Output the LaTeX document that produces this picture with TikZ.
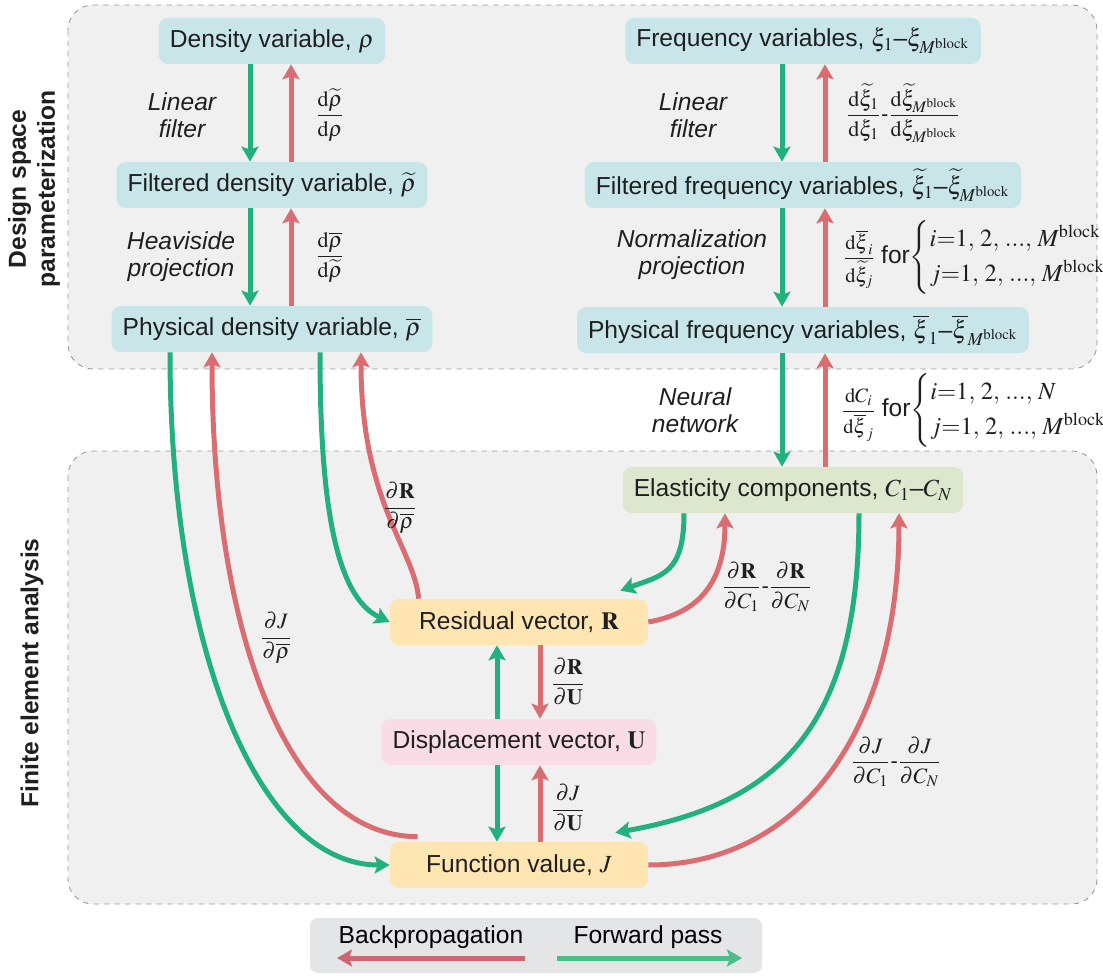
\documentclass[tikz,border=0pt]{standalone}
\usepackage{mathptmx}
\usepackage{amsmath}
\usepackage[no-math]{fontspec}
\setmainfont{Liberation Sans}
\usepackage{xcolor}
\usetikzlibrary{arrows.meta}
\definecolor{fwdgreen}{HTML}{22B07D}
\definecolor{backred}{HTML}{D96D71}
\definecolor{legendgreen}{HTML}{4CBD86}
\definecolor{legendred}{HTML}{CE6570}
\definecolor{varblue}{HTML}{C8E6EA}
\definecolor{elasgreen}{HTML}{DDE7CD}
\definecolor{vecorange}{HTML}{FEE5B2}
\definecolor{disppink}{HTML}{F9DCE6}
\definecolor{panelgray}{HTML}{F0F0F0}
\definecolor{legendgray}{HTML}{E4E5E7}
\tikzstyle{varbox} = [rectangle, rounded corners=0.18cm,
minimum height=0.92cm,
inner xsep=0.22cm,
text=black!88,
fill=varblue]
\tikzstyle{fembox} = [varbox, minimum width=5.16cm]
\tikzstyle{fwd} = [-{Stealth[length=0.3cm, width=0.34cm, inset=0.06cm]}, line width=0.1cm, draw=fwdgreen]
\tikzstyle{back} = [-{Stealth[length=0.3cm, width=0.34cm, inset=0.06cm]}, line width=0.1cm, draw=backred]
\tikzstyle{panel} = [draw=black!40, dashed, fill=panelgray, rounded corners=0.5cm, line width=0.5pt]
\tikzstyle{stepname} = [rotate=90, align=center, text=black!88, font=\fontsize{14}{16.5}\selectfont\bfseries]
\tikzstyle{opname} = [align=center, text=black!88, font=\fontsize{14}{15.5}\selectfont\itshape]
\tikzstyle{deriv} = [text=black!88, font=\fontsize{12.5}{15}\selectfont]
\tikzstyle{rangelbl} = [deriv, anchor=west, inner xsep=0pt, font=\fontsize{11.6}{14}\selectfont]

\begin{document}
\begin{tikzpicture}[x=0.02cm, y=0.02cm, font=\fontsize{14}{16.8}\selectfont]
		\useasboundingbox (0,0) rectangle (1103,-976);
		% panels
		\draw [panel] (68,-5) rectangle (1097,-369);
		\draw [panel] (68,-451) rectangle (1097,-904);
		\fill [legendgray, rounded corners=0.16cm] (310,-918) rectangle (762,-973);
		\node (designlbl) [stepname] at (34,-189) {Design space\\parameterization};
		\node (felbl) [stepname] at (32,-673) {Finite element analysis};
		
		% design variables
		\node (dens) [varbox] at (272,-41) {Density variable, $\rho$};
		\node (filtdens) [varbox] at (272,-185) {Filtered density variable, $\widetilde{\rho}$};
		\node (physdens) [varbox] at (272,-329) {Physical density variable, $\overline{\rho}$};
		\node (freq) [varbox] at (803,-41) {Frequency variables, $\xi_1$--$\xi_{M^{\mathrm{block}}}$};
		\node (filtfreq) [varbox] at (803,-185) {Filtered frequency variables, $\widetilde{\xi}_1$--$\widetilde{\xi}_{M^{\mathrm{block}}}$};
		\node (physfreq) [varbox] at (803,-330) {Physical frequency variables, $\overline{\xi}_1$--$\overline{\xi}_{M^{\mathrm{block}}}$};
		
		% analysis
		\node (elast) [varbox, fill=elasgreen] at (793,-490) {Elasticity components, $C_1$--$C_N$};
		\node (resid) [fembox, fill=vecorange] at (519,-622) {Residual vector, $\mathbf{R}$};
		\node (disp) [fembox, fill=disppink] at (519,-742) {Displacement vector, $\mathbf{U}$};
		\node (func) [fembox, fill=vecorange] at (519,-865) {Function value, $J$};
		
		\coordinate (dg) at (250,0);
		\coordinate (dr) at (291,0);
		\coordinate (fg) at (782,0);
		\coordinate (fr) at (825,0);
		\coordinate (mg) at (497,0);
		\coordinate (mr) at (540,0);
		\coordinate (pa) at (170,0);
		\coordinate (pb) at (212,0);
		\coordinate (pc) at (320,0);
		\coordinate (pd) at (361,0);
		\coordinate (ea) at (684,0);
		\coordinate (eb) at (725,0);
		\coordinate (ec) at (859,0);
		\coordinate (ed) at (899,0);
		
		\draw [fwd] (dens.south -| dg) -- (filtdens.north -| dg);
		\draw [back] (filtdens.north -| dr) -- (dens.south -| dr);
		\draw [fwd] (filtdens.south -| dg) -- (physdens.north -| dg);
		\draw [back] (physdens.north -| dr) -- (filtdens.south -| dr);
		\draw [fwd] (freq.south -| fg) -- (filtfreq.north -| fg);
		\draw [back] (filtfreq.north -| fr) -- (freq.south -| fr);
		\draw [fwd] (filtfreq.south -| fg) -- (physfreq.north -| fg);
		\draw [back] (physfreq.north -| fr) -- (filtfreq.south -| fr);
		\draw [fwd] (physfreq.south -| fg) -- (elast.north -| fg);
		\draw [back] (elast.north -| fr) -- (physfreq.south -| fr);
		
		\draw [fwd] (disp.north -| mg) -- (resid.south -| mg);
		\draw [back] (resid.south -| mr) -- (disp.north -| mr);
		\draw [fwd] (disp.south -| mg) -- (func.north -| mg);
		\draw [back] (func.north -| mr) -- (disp.south -| mr);
		
		\draw [fwd] (physdens.south -| pa) to[out=-90, in=180, out distance=6cm, in distance=2.6cm] (func.west);
		\draw [back] ([xshift=0.56cm, yshift=0.1cm]func.north west) to[out=180, in=-90, out distance=2.6cm, in distance=5.6cm] (physdens.south -| pb);
		\draw [fwd] (physdens.south -| pc) to[out=-90, in=155, out distance=3cm, in distance=1.2cm] (resid.west);
		\draw [back] ([xshift=0.58cm]resid.north west) to[out=95, in=-90, out distance=1cm, in distance=3cm] (physdens.south -| pd);
		\draw [fwd] (elast.south -| ea) to[out=-90, in=20, out distance=1.2cm, in distance=0.9cm] ([xshift=-0.56cm, yshift=0.16cm]resid.north east);
		\draw [back] (resid.east) to[out=10, in=-90, out distance=0.8cm, in distance=1.6cm] (elast.south -| eb);
		\draw [fwd] (elast.south -| ec) to[out=-90, in=10, out distance=4.2cm, in distance=3.4cm] ([xshift=-0.66cm, yshift=0.18cm]func.north east);
		\draw [back] (func.east) to[out=0, in=-90, out distance=3cm, in distance=4.4cm] (elast.south -| ed);
		
		% operation labels
		\node (lblfilt) [opname] at (182,-115) {Linear\\filter};
		\node (lblheav) [opname] at (181,-257) {Heaviside\\projection};
		\node (lblfiltf) [opname] at (693,-115) {Linear\\filter};
		\node (lblnorm) [opname] at (692,-255) {Normalization\\projection};
		\node (lblnn) [opname] at (695,-410) {Neural\\network};
		
		% derivatives
		\node (ddens) [deriv] at (330,-115) {$\dfrac{\mathrm{d}\widetilde{\rho}}{\mathrm{d}\rho}$};
		\node (dfilt) [deriv] at (330,-257) {$\dfrac{\mathrm{d}\overline{\rho}}{\mathrm{d}\widetilde{\rho}}$};
		\node (dfreq) [deriv, anchor=west] at (840,-113) {$\dfrac{\mathrm{d}\widetilde{\xi}_1}{\mathrm{d}\xi_1}$-$\dfrac{\mathrm{d}\widetilde{\xi}_{M^{\mathrm{block}}}}{\mathrm{d}\xi_{M^{\mathrm{block}}}}$};
		\node (dnorm) [rangelbl] at (843,-257) {\renewcommand{\arraystretch}{1.25}$\dfrac{\mathrm{d}\overline{\xi}_i}{\mathrm{d}\widetilde{\xi}_j}$ \fontsize{14}{16}\selectfont for$\left\{\begin{array}{@{}l@{}} i{=}1,\,2,\,...,\,M^{\mathrm{block}}\\ j{=}1,\,2,\,...,\,M^{\mathrm{block}}\end{array}\right.$};
		\node (dnn) [rangelbl] at (841,-410) {\renewcommand{\arraystretch}{1.25}$\dfrac{\mathrm{d}C_i}{\mathrm{d}\overline{\xi}_j}$ \fontsize{14}{16}\selectfont for$\left\{\begin{array}{@{}l@{}} i{=}1,\,2,\,...,\,N\\ j{=}1,\,2,\,...,\,M^{\mathrm{block}}\end{array}\right.$};
		\node (dresrho) [deriv] at (400,-508) {$\dfrac{\partial\mathbf{R}}{\partial\overline{\rho}}$};
		\node (dfunrho) [deriv] at (276,-638) {$\dfrac{\partial J}{\partial\overline{\rho}}$};
		\node (dresC) [deriv] at (767,-587) {$\dfrac{\partial\mathbf{R}}{\partial C_1}$-$\dfrac{\partial\mathbf{R}}{\partial C_N}$};
		\node (dresU) [deriv] at (568,-682) {$\dfrac{\partial\mathbf{R}}{\partial\mathbf{U}}$};
		\node (dfunU) [deriv] at (568,-808) {$\dfrac{\partial J}{\partial\mathbf{U}}$};
		\node (dfunC) [deriv] at (896,-762) {$\dfrac{\partial J}{\partial C_1}$-$\dfrac{\partial J}{\partial C_N}$};
		
		% legend
		\node (backlbl) at (431,-937) {Backpropagation};
		\node (fwdlbl) at (648,-937) {Forward pass};
		\coordinate (backfrom) at (525,-958);
		\coordinate (backto) at (337,-958);
		\coordinate (fwdfrom) at (557,-958);
		\coordinate (fwdto) at (742,-958);
		\draw [back, draw=legendred] (backfrom) -- (backto);
		\draw [fwd, draw=legendgreen] (fwdfrom) -- (fwdto);
	\end{tikzpicture}
\end{document}
